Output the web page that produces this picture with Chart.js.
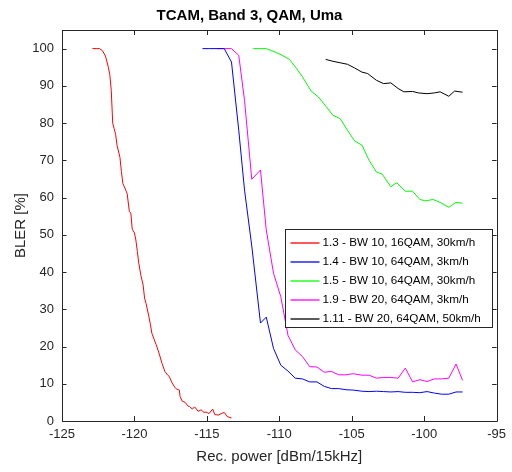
<!DOCTYPE html>
<html>
<head>
<meta charset="utf-8">
<script src="https://cdn.jsdelivr.net/npm/chart.js@4.4.0/dist/chart.umd.min.js"></script>
<style>
	html, body { margin: 0; padding: 0; background: #fff; }
</style>
</head>
<body>
<canvas id="chart" width="512" height="472"></canvas>
<script>
// Series labels and colours
const seriesLabels = [
	'1.3 - BW 10, 16QAM, 30km/h',
	'1.4 - BW 10, 64QAM, 3km/h',
	'1.5 - BW 10, 64QAM, 30km/h',
	'1.9 - BW 20, 64QAM, 3km/h',
	'1.11 - BW 20, 64QAM, 50km/h',
];
const seriesColors = ['#ff0000', '#0000ff', '#00ff00', '#ff00ff', '#000000'];

// Rec. power [dBm/15kHz] and BLER [%] per series
const redX = [-122.9, -122.6, -122.4, -122.2, -122.0, -121.8, -121.7, -121.6, -121.5, -121.4, -121.3, -121.2, -121.0, -120.9, -120.8, -120.6, -120.5, -120.35, -120.25, -120.15, -120.0, -119.9, -119.8, -119.7, -119.55, -119.4, -119.3, -119.2, -119.0, -118.9, -118.8, -118.6, -118.5, -118.3, -118.1, -117.9, -117.7, -117.6, -117.4, -117.2, -117.1, -116.9, -116.85, -116.7, -116.5, -116.3, -116.2, -116.0, -115.85, -115.6, -115.4, -115.2, -115.05, -114.85, -114.6, -114.45, -114.2, -114.0, -113.8, -113.6, -113.3];
const redY = [100, 100, 100, 99.4, 98.0, 95.0, 93.0, 88.8, 80.0, 78.5, 77.0, 74.0, 70.8, 67.0, 63.8, 62.0, 61.0, 56.2, 55.9, 51.5, 50.5, 48.6, 45.5, 42.4, 39.0, 36.5, 33.0, 31.6, 28.0, 26.0, 23.6, 21.5, 20.5, 18.2, 15.5, 13.3, 12.3, 12.0, 10.2, 9.0, 8.6, 8.3, 6.6, 5.3, 5.0, 4.0, 3.9, 3.2, 3.8, 2.6, 3.0, 2.3, 2.4, 2.0, 3.2, 1.7, 1.6, 2.0, 2.3, 1.2, 0.8];

const blueX = [-115.3, -114.8, -114.3, -113.8, -113.3, -112.8, -112.4, -111.9, -111.3, -110.9, -110.4, -109.9, -109.4, -108.9, -108.4, -107.9, -107.4, -106.9, -106.4, -105.9, -105.4, -104.9, -104.3, -103.8, -103.3, -102.8, -102.3, -101.8, -101.3, -100.8, -100.3, -99.8, -99.3, -98.8, -98.3, -97.8, -97.35];
const blueY = [100, 100, 100, 100, 96.4, 78.1, 62.0, 47.0, 26.3, 27.9, 19.5, 15.0, 13.4, 11.5, 11.3, 10.5, 10.5, 9.3, 8.7, 8.7, 8.4, 8.3, 8.0, 7.9, 8.0, 7.9, 7.8, 7.9, 7.7, 7.7, 7.6, 7.9, 7.5, 7.2, 7.2, 7.8, 7.8];

const greenX = [-111.8, -111.3, -110.9, -110.3, -109.8, -109.3, -108.8, -108.4, -107.8, -107.3, -106.9, -106.3, -105.8, -105.3, -104.8, -104.3, -103.8, -103.3, -102.9, -102.3, -101.9, -101.3, -100.8, -100.3, -99.9, -99.4, -98.9, -98.3, -97.8, -97.35];
const greenY = [100, 100, 100, 99.1, 98.2, 97.1, 94.6, 92.4, 88.6, 87.0, 85.1, 82.1, 81.2, 78.1, 75.2, 74.1, 70.0, 66.9, 66.3, 62.9, 64.0, 61.7, 61.7, 59.5, 59.1, 59.5, 58.7, 57.4, 58.7, 58.5];

const magentaX = [-114.3, -113.8, -113.3, -112.8, -112.4, -111.9, -111.3, -110.9, -110.4, -109.9, -109.4, -108.9, -108.4, -107.9, -107.4, -106.9, -106.4, -105.9, -105.4, -104.9, -104.3, -103.8, -103.3, -102.8, -102.3, -101.8, -101.3, -100.8, -100.3, -99.8, -99.3, -98.8, -98.3, -97.8, -97.35];
const magentaY = [100, 100, 100, 98.2, 86.1, 64.9, 67.4, 51.3, 39.7, 33.4, 23.0, 19.1, 17.3, 14.6, 14.5, 13.1, 13.3, 12.4, 12.4, 12.7, 12.3, 12.3, 11.5, 11.7, 11.7, 11.5, 14.2, 10.5, 11.1, 10.6, 11.3, 11.3, 11.5, 15.3, 10.9];

const blackX = [-106.8, -106.3, -105.8, -105.3, -104.8, -104.3, -103.9, -103.3, -102.8, -102.3, -101.8, -101.4, -100.8, -100.4, -99.8, -99.3, -98.9, -98.3, -97.9, -97.35];
const blackY = [97.1, 96.6, 96.2, 95.8, 94.8, 93.7, 93.3, 91.5, 90.6, 90.8, 89.3, 88.4, 88.5, 88.1, 87.9, 88.1, 88.4, 87.2, 88.6, 88.3];

const FONT = "'Liberation Sans', Arial, sans-serif";
const TEXT = '#262626';

function toPoints(xs, ys) {
	return xs.map((x, i) => ({ x: x, y: ys[i] }));
}

const seriesData = [
	toPoints(redX, redY),
	toPoints(blueX, blueY),
	toPoints(greenX, greenY),
	toPoints(magentaX, magentaY),
	toPoints(blackX, blackY),
];

// MATLAB-style box with inward ticks on all four sides
const axesBox = {
	id: 'axesBox',
	afterDatasetsDraw(chart) {
		const { ctx, chartArea: a, scales } = chart;
		ctx.save();
		ctx.strokeStyle = TEXT;
		ctx.lineWidth = 1;
		ctx.beginPath();
		ctx.rect(Math.round(a.left) + 0.5, Math.round(a.top) + 0.5, Math.round(a.right - a.left), Math.round(a.bottom - a.top));
		scales.x.ticks.forEach((t) => {
			const px = Math.round(scales.x.getPixelForValue(t.value)) + 0.5;
			ctx.moveTo(px, a.bottom);
			ctx.lineTo(px, a.bottom - 5);
			ctx.moveTo(px, a.top);
			ctx.lineTo(px, a.top + 5);
		});
		scales.y.ticks.forEach((t) => {
			const py = Math.round(scales.y.getPixelForValue(t.value)) + 0.5;
			ctx.moveTo(a.left, py);
			ctx.lineTo(a.left + 4.5, py);
			ctx.moveTo(a.right, py);
			ctx.lineTo(a.right - 4.5, py);
		});
		ctx.stroke();
		ctx.restore();
	},
};

// Legend box inside the axes, lower right
const boxLegend = {
	id: 'boxLegend',
	afterDraw(chart) {
		const { ctx } = chart;
		const left = 285.5, top = 229.5, w = 207, h = 98;
		ctx.save();
		ctx.fillStyle = '#fff';
		ctx.fillRect(left, top, w, h);
		ctx.strokeStyle = TEXT;
		ctx.lineWidth = 1;
		ctx.strokeRect(left, top, w, h);
		ctx.font = '11.7px ' + FONT;
		ctx.textBaseline = 'middle';
		ctx.textAlign = 'left';
		chart.data.datasets.forEach((ds, i) => {
			const y = Math.round(top + 13 + i * 19);
			ctx.strokeStyle = ds.borderColor;
			ctx.lineWidth = 1.3;
			ctx.beginPath();
			ctx.moveTo(left + 5, y);
			ctx.lineTo(left + 34, y);
			ctx.stroke();
			ctx.fillStyle = '#000';
			ctx.fillText(ds.label, left + 37, y);
		});
		ctx.restore();
	},
};

const chart = new Chart(document.getElementById('chart').getContext('2d'), {
	type: 'line',
	data: {
		datasets: seriesData.map((pts, i) => ({
			label: seriesLabels[i],
			data: pts,
			borderColor: seriesColors[i],
			backgroundColor: seriesColors[i],
			borderWidth: 1,
			pointRadius: 0,
			tension: 0,
			fill: false,
		})),
	},
	options: {
		responsive: false,
		animation: false,
		layout: { padding: { left: 0, right: 13, top: 0, bottom: 0 } },
		plugins: {
			legend: { display: false },
			tooltip: { enabled: false },
			title: {
				display: true,
				text: 'TCAM, Band 3, QAM, Uma',
				color: '#000',
				font: { family: FONT, size: 15, weight: 'bold', lineHeight: 1.2 },
				padding: { top: 7, bottom: 5 },
			},
		},
		scales: {
			x: {
				type: 'linear',
				min: -125,
				max: -95,
				afterFit: (scale) => { scale.height = 51; },
				grid: { display: false, drawTicks: false, tickLength: 0 },
				border: { display: false },
				ticks: { stepSize: 5, color: TEXT, padding: 6, maxRotation: 0, font: { family: FONT, size: 13 } },
				title: {
					display: true,
					text: 'Rec. power [dBm/15kHz]',
					color: TEXT,
					font: { family: FONT, size: 15, lineHeight: 1.2 },
					padding: { top: 0, bottom: 6 },
				},
			},
			y: {
				type: 'linear',
				min: 0,
				max: 105,
				afterFit: (scale) => { scale.width = 62; },
				grid: { display: false, drawTicks: false, tickLength: 0 },
				border: { display: false },
				ticks: { stepSize: 10, includeBounds: false, color: TEXT, padding: 8, font: { family: FONT, size: 13 } },
				title: {
					display: true,
					text: 'BLER [%]',
					color: TEXT,
					font: { family: FONT, size: 15, lineHeight: 1.2 },
					padding: { top: 12, bottom: 0 },
				},
			},
		},
	},
	plugins: [axesBox, boxLegend],
});
</script>
</body>
</html>
